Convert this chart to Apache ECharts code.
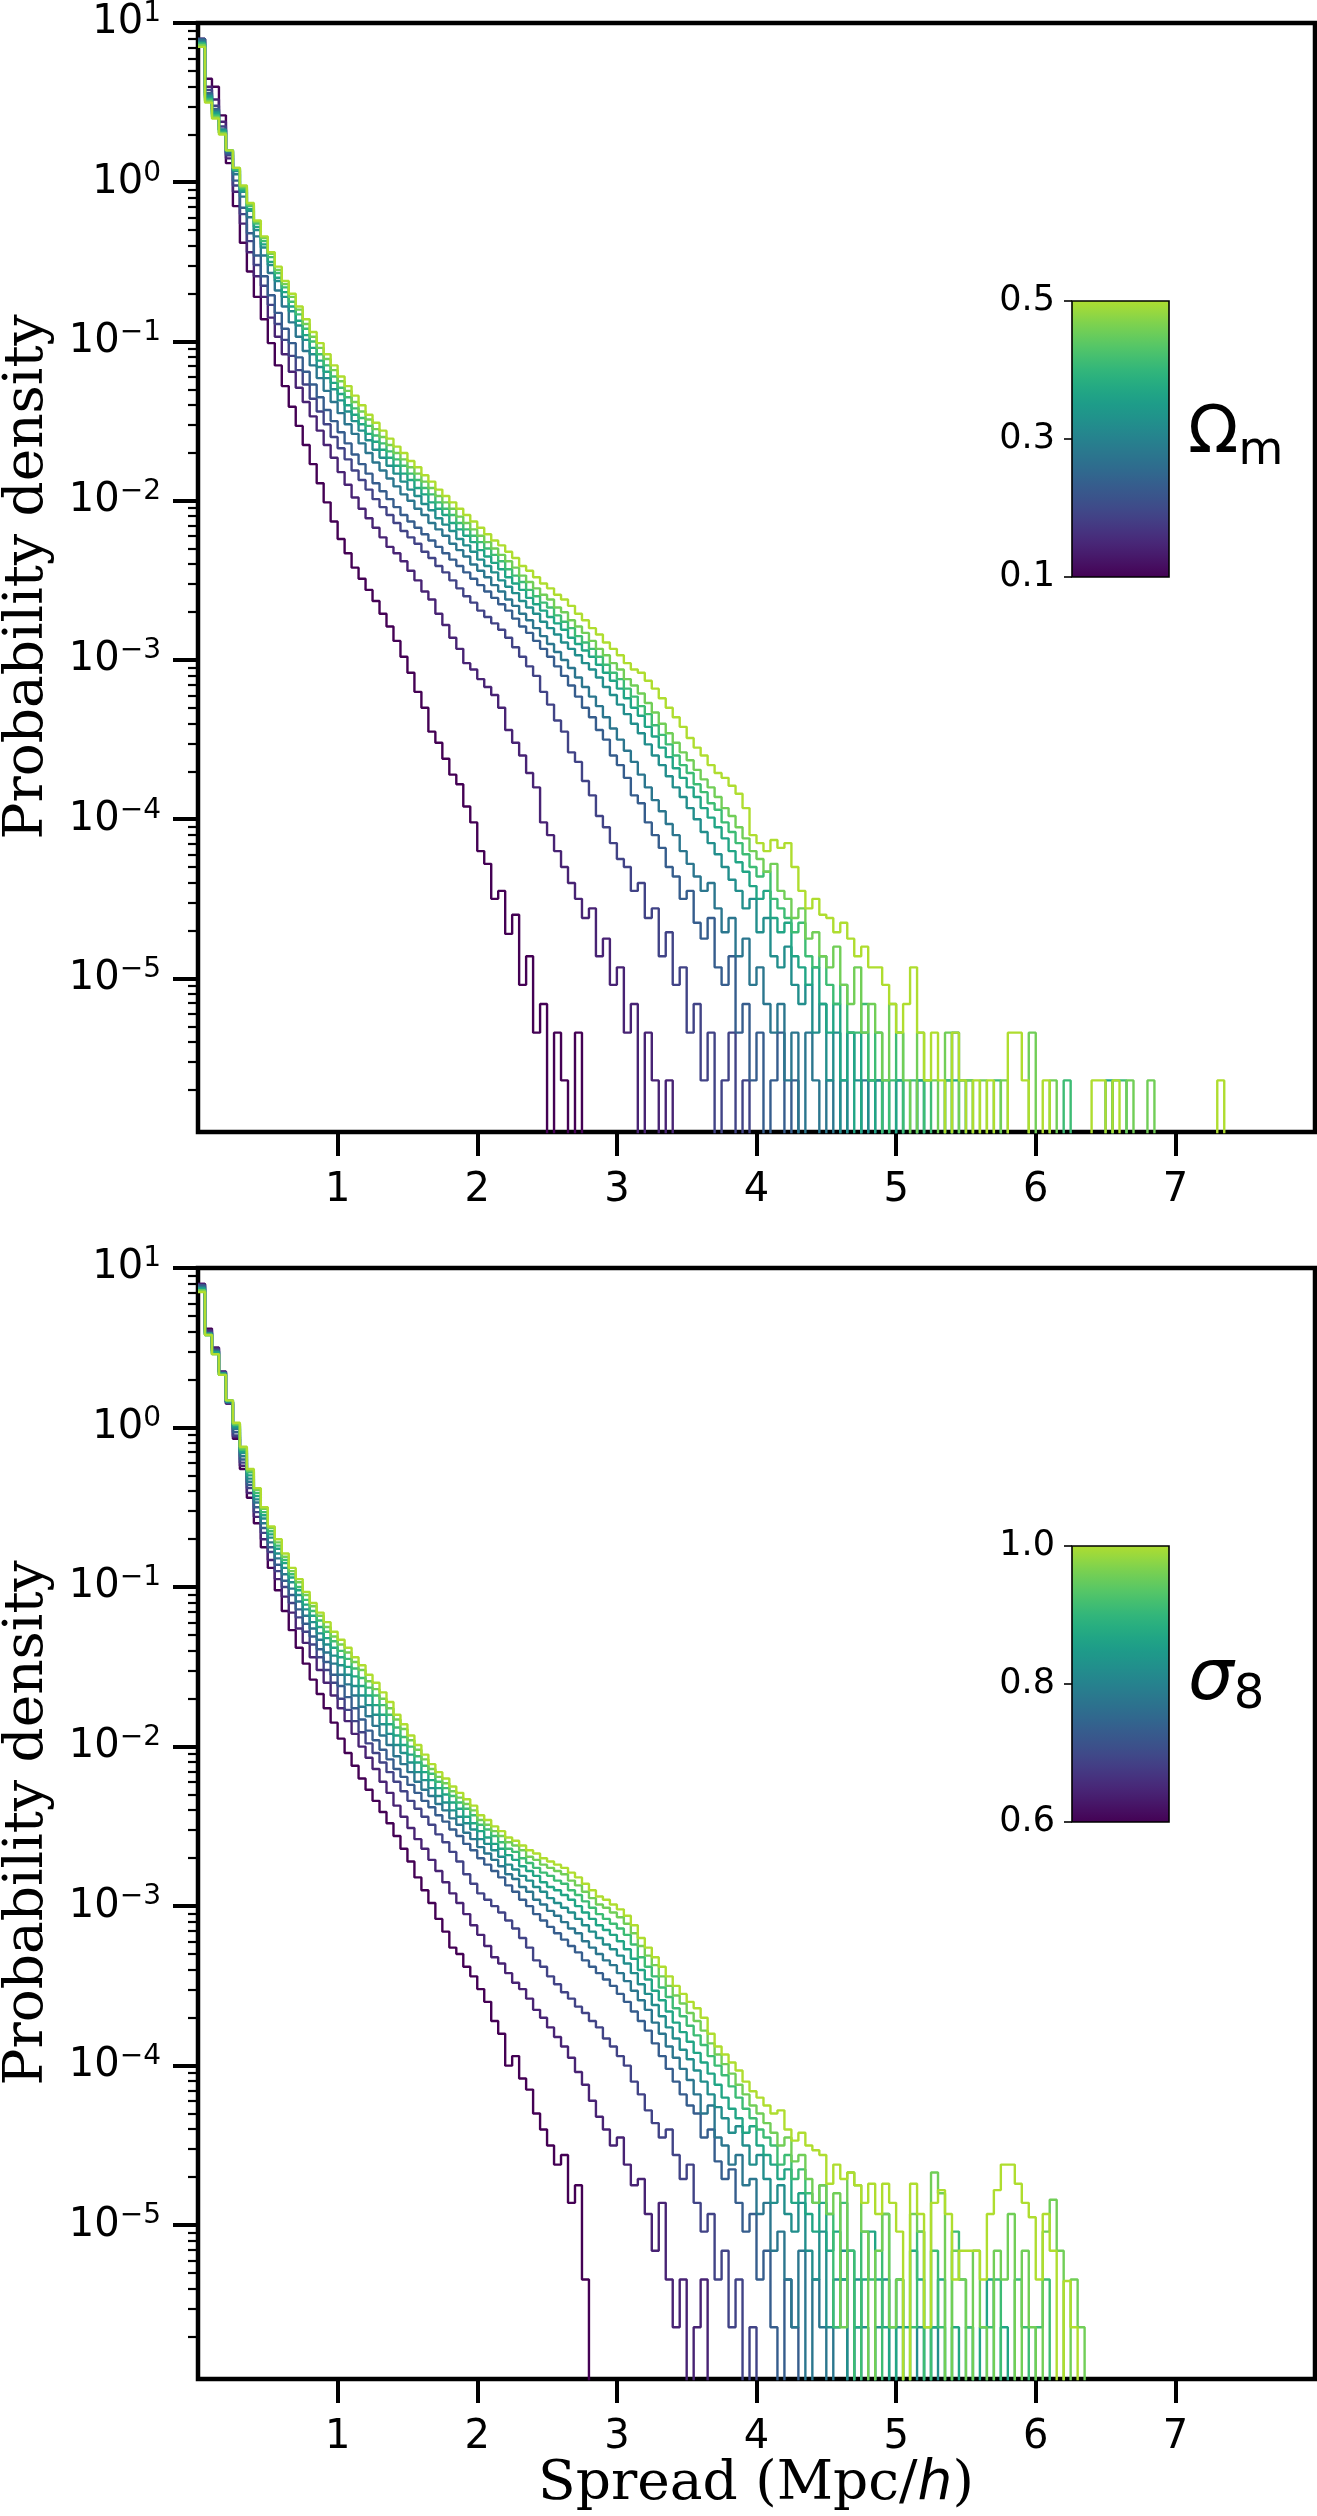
<!DOCTYPE html>
<html><head><meta charset="utf-8">
<script src="https://cdn.jsdelivr.net/npm/echarts@6/dist/echarts.min.js"></script>
<style>html,body{margin:0;padding:0;background:#fff}#c{width:1317px;height:2516px}</style>
</head><body><div id="c"></div>
<script>
// ---------------- data ----------------
const BIN_WIDTH = 0.05;               // histogram bin width (Mpc/h)
const xTickValues = [1, 2, 3, 4, 5, 6, 7];
const yTickValues = [1e-5, 1e-4, 1e-3, 1e-2, 1e-1, 1, 10];
const omegaMTicks = [0.1, 0.3, 0.5];
const sigma8Ticks = [0.6, 0.8, 1.0];
const omegaMValues = [0.1, 0.144, 0.189, 0.233, 0.278, 0.322, 0.367, 0.411, 0.456, 0.5];
const sigma8Values = [0.6, 0.644, 0.689, 0.733, 0.778, 0.822, 0.867, 0.911, 0.956, 1.0];

// log10(probability density) per bin, top panel (Omega_m)
const om0 = [0.90,0.65,0.60,0.42,0.12,-0.15,-0.38,-0.56,-0.72,-0.86,
-1.01,-1.15,-1.28,-1.41,-1.53,-1.65,-1.77,-1.89,-2.01,-2.13,
-2.24,-2.33,-2.42,-2.49,-2.56,-2.63,-2.71,-2.79,-2.88,-2.98,
-3.08,-3.20,-3.30,-3.45,-3.52,-3.62,-3.72,-3.78,-3.92,-4.02,
-4.20,-4.28,-4.50,-4.45,-4.72,-4.60,-5.04,-4.86,-5.34,-5.16,
-7,-5.34,-5.64,-7,-5.34];
const om1 = [0.90,0.60,0.52,0.38,0.15,-0.06,-0.26,-0.44,-0.59,-0.72,
-0.85,-0.97,-1.08,-1.19,-1.29,-1.38,-1.47,-1.56,-1.65,-1.73,
-1.82,-1.90,-1.98,-2.05,-2.11,-2.17,-2.23,-2.29,-2.33,-2.38,
-2.44,-2.50,-2.57,-2.62,-2.71,-2.78,-2.86,-2.93,-3.02,-3.06,
-3.12,-3.17,-3.22,-3.30,-3.44,-3.52,-3.60,-3.71,-3.80,-4.02,
-4.10,-4.20,-4.30,-4.40,-4.50,-4.62,-4.56,-4.86,-4.75,-5.04,
-4.93,-5.34,-5.16,-7,-5.34,-5.64,-7,-5.64];
const om2 = [0.90,0.58,0.48,0.35,0.17,-0.02,-0.20,-0.37,-0.52,-0.65,
-0.77,-0.89,-0.99,-1.09,-1.18,-1.27,-1.36,-1.44,-1.52,-1.60,
-1.67,-1.74,-1.81,-1.87,-1.93,-1.99,-2.04,-2.09,-2.14,-2.19,
-2.23,-2.27,-2.32,-2.36,-2.41,-2.45,-2.50,-2.55,-2.60,-2.64,
-2.69,-2.73,-2.77,-2.81,-2.86,-2.92,-2.98,-3.04,-3.10,-3.20,
-3.28,-3.38,-3.45,-3.58,-3.64,-3.76,-3.85,-3.98,-4.05,-4.15,
-4.25,-4.30,-4.45,-4.40,-4.62,-4.56,-4.86,-4.71,-5.04,-4.93,
-5.34,-5.16,-5.64,-5.34,-7,-5.64,-5.34,-7,-5.64];
const om3 = [0.90,0.56,0.46,0.33,0.18,0.01,-0.16,-0.32,-0.46,-0.59,
-0.71,-0.82,-0.92,-1.01,-1.10,-1.19,-1.27,-1.35,-1.43,-1.50,
-1.57,-1.64,-1.71,-1.77,-1.83,-1.89,-1.94,-1.99,-2.04,-2.09,
-2.13,-2.17,-2.21,-2.25,-2.29,-2.33,-2.37,-2.41,-2.45,-2.49,
-2.53,-2.57,-2.61,-2.65,-2.69,-2.74,-2.79,-2.83,-2.88,-2.93,
-2.98,-3.04,-3.10,-3.16,-3.23,-3.30,-3.36,-3.44,-3.50,-3.60,
-3.66,-3.74,-3.85,-3.90,-4.02,-4.10,-4.18,-4.30,-4.36,-4.50,
-4.45,-4.65,-4.75,-4.62,-4.93,-5.04,-4.86,-5.34,-5.16,-5.64,
-5.34,-7,-5.64,-5.34,-7,-5.64];
const om4 = [0.89,0.55,0.45,0.33,0.19,0.05,-0.09,-0.22,-0.34,-0.46,
-0.57,-0.68,-0.78,-0.88,-0.97,-1.06,-1.15,-1.23,-1.31,-1.38,
-1.45,-1.52,-1.58,-1.64,-1.70,-1.76,-1.81,-1.86,-1.91,-1.96,
-2.00,-2.05,-2.09,-2.14,-2.18,-2.22,-2.27,-2.31,-2.35,-2.40,
-2.44,-2.48,-2.53,-2.57,-2.62,-2.66,-2.71,-2.75,-2.80,-2.85,
-2.90,-2.95,-3.00,-3.05,-3.11,-3.17,-3.23,-3.29,-3.36,-3.43,
-3.50,-3.57,-3.64,-3.72,-3.80,-3.88,-3.95,-4.03,-4.10,-4.20,
-4.28,-4.36,-4.45,-4.40,-4.56,-4.71,-4.62,-4.86,-4.75,-5.04,
-4.93,-5.16,-5.34,-5.16,-5.64,-5.34,-7,-5.34,-5.64,-7,
-5.64,-7,-5.64,-7,-7,-5.64,-7,-5.64];
const om5 = [0.88,0.54,0.44,0.33,0.20,0.07,-0.06,-0.18,-0.30,-0.41,
-0.52,-0.62,-0.72,-0.81,-0.90,-0.99,-1.08,-1.16,-1.23,-1.30,
-1.37,-1.44,-1.50,-1.56,-1.62,-1.68,-1.73,-1.78,-1.83,-1.88,
-1.93,-1.97,-2.02,-2.06,-2.11,-2.15,-2.19,-2.24,-2.28,-2.32,
-2.37,-2.41,-2.45,-2.50,-2.54,-2.58,-2.63,-2.67,-2.71,-2.76,
-2.80,-2.84,-2.89,-2.93,-2.97,-3.02,-3.06,-3.11,-3.17,-3.22,
-3.28,-3.34,-3.40,-3.46,-3.53,-3.60,-3.66,-3.73,-3.80,-3.86,
-3.93,-4.00,-4.08,-4.15,-4.22,-4.30,-4.38,-4.45,-4.56,-4.50,
-4.71,-4.62,-4.86,-4.93,-4.80,-5.04,-5.16,-5.04,-5.34,-5.16,
-5.64,-5.34,-7,-5.34,-5.64,-7,-5.64,-5.64,-7,-7,
-5.64,-7,-7,-5.64,-7,-7,-7,-5.64,-5.34,-5.64];
const om6 = [0.87,0.53,0.43,0.32,0.20,0.08,-0.05,-0.17,-0.28,-0.39,
-0.50,-0.60,-0.69,-0.78,-0.87,-0.96,-1.04,-1.12,-1.19,-1.26,
-1.33,-1.40,-1.46,-1.52,-1.58,-1.63,-1.68,-1.73,-1.78,-1.83,
-1.87,-1.92,-1.96,-2.01,-2.05,-2.09,-2.14,-2.18,-2.22,-2.26,
-2.31,-2.35,-2.39,-2.43,-2.48,-2.52,-2.56,-2.61,-2.65,-2.69,
-2.73,-2.77,-2.81,-2.86,-2.90,-2.94,-2.98,-3.03,-3.08,-3.13,
-3.18,-3.24,-3.30,-3.35,-3.42,-3.48,-3.55,-3.61,-3.68,-3.74,
-3.80,-3.86,-3.93,-3.99,-4.05,-4.12,-4.20,-4.27,-4.33,-4.42,
-4.50,-4.45,-4.62,-4.71,-4.65,-4.86,-4.93,-5.04,-4.93,-5.16,
-5.34,-5.16,-5.64,-5.34,-7,-5.34,-5.64,-7,-5.64,-7,
-5.64,-7,-7,-5.64,-7,-7,-7,-7,-5.64,-7,
-7,-7,-7,-7,-7,-7,-7,-7,-7,-7,
-7,-7,-7,-7,-7,-7,-7,-7,-7,-7,
-5.64];
const om7 = [0.87,0.52,0.42,0.31,0.20,0.08,-0.04,-0.15,-0.26,-0.37,
-0.47,-0.57,-0.66,-0.75,-0.83,-0.92,-1.00,-1.08,-1.15,-1.22,
-1.29,-1.35,-1.42,-1.48,-1.53,-1.59,-1.64,-1.69,-1.74,-1.78,
-1.83,-1.87,-1.92,-1.96,-2.01,-2.05,-2.09,-2.14,-2.18,-2.22,
-2.26,-2.30,-2.34,-2.38,-2.43,-2.47,-2.51,-2.56,-2.60,-2.64,
-2.67,-2.72,-2.76,-2.80,-2.85,-2.89,-2.93,-2.98,-3.03,-3.08,
-3.12,-3.18,-3.23,-3.29,-3.34,-3.41,-3.47,-3.53,-3.60,-3.66,
-3.71,-3.78,-3.83,-3.90,-3.94,-4.02,-4.08,-4.15,-4.22,-4.30,
-4.36,-4.33,-4.50,-4.56,-4.62,-4.71,-4.65,-4.86,-4.93,-4.86,
-5.04,-5.16,-5.04,-5.34,-5.34,-5.16,-5.64,-5.34,-7,-5.64,
-5.34,-7,-5.64,-7,-5.64,-7,-7,-5.64,-7,-7,
-5.64,-7,-7,-7,-5.64,-7,-7,-7,-7,-7,
-7,-7,-7,-7,-5.64,-7,-7,-7,-7,-7,
-7,-5.64,-5.64];
const om8 = [0.86,0.51,0.41,0.31,0.20,0.09,-0.03,-0.14,-0.25,-0.35,
-0.45,-0.55,-0.64,-0.72,-0.80,-0.89,-0.97,-1.04,-1.11,-1.18,
-1.25,-1.31,-1.38,-1.44,-1.49,-1.55,-1.60,-1.65,-1.70,-1.74,
-1.79,-1.83,-1.88,-1.92,-1.97,-2.01,-2.05,-2.10,-2.14,-2.18,
-2.22,-2.26,-2.30,-2.34,-2.38,-2.42,-2.47,-2.51,-2.55,-2.59,
-2.62,-2.67,-2.70,-2.75,-2.79,-2.83,-2.88,-2.93,-2.97,-3.02,
-3.06,-3.12,-3.16,-3.21,-3.27,-3.33,-3.40,-3.46,-3.52,-3.58,
-3.63,-3.69,-3.75,-3.80,-3.86,-3.93,-3.98,-4.05,-4.12,-4.20,
-4.25,-4.33,-4.28,-4.45,-4.50,-4.62,-4.56,-4.75,-4.71,-4.86,
-4.93,-4.80,-5.04,-5.16,-4.93,-5.34,-5.16,-5.34,-5.64,-5.16,
-5.34,-5.64,-7,-5.34,-5.64,-5.64,-7,-5.34,-7,-5.64,
-5.64,-7,-5.64,-7,-7,-5.64,-7,-7,-7,-5.34,
-7,-7,-5.64,-7,-7,-7,-7,-7,-7,-7,
-7,-7,-7,-5.64,-7,-7,-5.64];
const om9 = [0.85,0.50,0.40,0.30,0.20,0.09,-0.02,-0.13,-0.24,-0.34,
-0.44,-0.53,-0.62,-0.70,-0.78,-0.86,-0.94,-1.01,-1.08,-1.15,
-1.22,-1.28,-1.34,-1.40,-1.46,-1.51,-1.56,-1.61,-1.66,-1.70,
-1.75,-1.79,-1.84,-1.88,-1.93,-1.97,-2.01,-2.05,-2.09,-2.13,
-2.17,-2.21,-2.25,-2.28,-2.32,-2.36,-2.41,-2.44,-2.48,-2.52,
-2.55,-2.59,-2.62,-2.66,-2.71,-2.75,-2.80,-2.84,-2.89,-2.93,
-2.97,-3.02,-3.06,-3.08,-3.13,-3.18,-3.24,-3.30,-3.36,-3.42,
-3.49,-3.55,-3.60,-3.66,-3.71,-3.74,-3.79,-3.84,-3.93,-4.10,
-4.15,-4.20,-4.13,-4.18,-4.15,-4.30,-4.45,-4.56,-4.50,-4.60,
-4.62,-4.71,-4.65,-4.75,-4.86,-4.80,-4.93,-4.93,-5.04,-5.16,
-5.34,-5.16,-4.93,-5.34,-5.64,-5.34,-5.64,-7,-5.34,-5.64,
-7,-5.64,-7,-5.64,-7,-7,-5.34,-5.34,-5.64,-7,
-7,-5.64,-7,-7,-7,-7,-7,-7,-5.64,-5.64,
-7,-5.64,-7,-7,-7,-7,-7,-7,-7,-7,
-7,-7,-7,-7,-7,-7,-5.64];

// log10(probability density) per bin, bottom panel (sigma_8)
const s80 = [0.90,0.62,0.50,0.35,0.15,-0.07,-0.26,-0.44,-0.60,-0.75,
-0.88,-1.02,-1.15,-1.27,-1.38,-1.48,-1.58,-1.67,-1.76,-1.85,
-1.95,-2.04,-2.12,-2.20,-2.27,-2.34,-2.41,-2.48,-2.56,-2.64,
-2.72,-2.82,-2.90,-2.98,-3.08,-3.16,-3.26,-3.30,-3.38,-3.44,
-3.52,-3.60,-3.72,-3.80,-4.00,-3.94,-4.08,-4.15,-4.30,-4.40,
-4.50,-4.62,-4.56,-4.86,-4.75,-5.34];
const s81 = [0.90,0.61,0.50,0.35,0.15,-0.06,-0.24,-0.41,-0.56,-0.70,
-0.83,-0.95,-1.06,-1.16,-1.26,-1.35,-1.44,-1.52,-1.60,-1.68,
-1.76,-1.84,-1.92,-2.00,-2.07,-2.14,-2.22,-2.29,-2.37,-2.44,
-2.51,-2.58,-2.64,-2.71,-2.78,-2.85,-2.92,-2.98,-3.05,-3.12,
-3.18,-3.25,-3.32,-3.36,-3.42,-3.48,-3.52,-3.58,-3.65,-3.70,
-3.76,-3.82,-3.88,-3.95,-4.04,-4.12,-4.22,-4.32,-4.40,-4.50,
-4.45,-4.62,-4.75,-4.71,-4.93,-5.16,-4.86,-5.34,-5.64,-5.34,
-7,-5.64,-5.34];
const s82 = [0.89,0.60,0.49,0.35,0.16,-0.05,-0.22,-0.38,-0.53,-0.66,
-0.78,-0.90,-1.00,-1.10,-1.19,-1.28,-1.36,-1.44,-1.52,-1.60,
-1.70,-1.77,-1.84,-1.91,-1.98,-2.04,-2.10,-2.16,-2.22,-2.28,
-2.34,-2.39,-2.44,-2.49,-2.55,-2.60,-2.66,-2.72,-2.80,-2.86,
-2.92,-2.96,-3.00,-3.04,-3.09,-3.14,-3.20,-3.26,-3.34,-3.38,
-3.44,-3.49,-3.54,-3.58,-3.63,-3.67,-3.72,-3.76,-3.83,-3.88,
-3.94,-4.00,-4.10,-4.18,-4.28,-4.36,-4.45,-4.40,-4.56,-4.71,
-4.62,-4.86,-5.04,-4.93,-5.34,-5.16,-5.64,-5.34,-7,-5.64];
const s83 = [0.89,0.59,0.48,0.34,0.16,-0.03,-0.20,-0.36,-0.50,-0.63,
-0.75,-0.86,-0.96,-1.05,-1.14,-1.23,-1.31,-1.39,-1.47,-1.55,
-1.62,-1.69,-1.76,-1.83,-1.90,-1.96,-2.02,-2.08,-2.14,-2.19,
-2.24,-2.29,-2.34,-2.38,-2.43,-2.47,-2.52,-2.56,-2.61,-2.65,
-2.70,-2.74,-2.78,-2.82,-2.87,-2.91,-2.96,-3.00,-3.05,-3.09,
-3.13,-3.17,-3.21,-3.25,-3.29,-3.34,-3.38,-3.42,-3.46,-3.50,
-3.55,-3.60,-3.66,-3.72,-3.78,-3.86,-3.94,-4.02,-4.10,-4.18,
-4.25,-4.30,-4.45,-4.40,-4.60,-4.71,-4.65,-4.86,-5.04,-4.93,
-5.34,-5.16,-5.64,-7,-5.34,-5.64];
const s84 = [0.88,0.59,0.48,0.34,0.16,-0.01,-0.18,-0.34,-0.47,-0.60,
-0.72,-0.82,-0.92,-1.01,-1.09,-1.18,-1.26,-1.33,-1.41,-1.48,
-1.55,-1.61,-1.68,-1.75,-1.81,-1.87,-1.93,-1.99,-2.06,-2.11,
-2.16,-2.22,-2.27,-2.31,-2.36,-2.40,-2.45,-2.49,-2.54,-2.58,
-2.63,-2.67,-2.71,-2.75,-2.80,-2.83,-2.88,-2.91,-2.96,-2.99,
-3.03,-3.06,-3.10,-3.14,-3.17,-3.22,-3.26,-3.30,-3.34,-3.37,
-3.42,-3.47,-3.53,-3.59,-3.65,-3.73,-3.80,-3.88,-3.95,-4.02,
-4.09,-4.18,-4.30,-4.25,-4.45,-4.50,-4.62,-4.56,-4.75,-4.71,
-4.93,-4.86,-5.16,-5.04,-5.34,-5.64,-5.16,-7,-5.34,-5.64,
-7,-5.64,-5.34,-7,-5.64];
const s85 = [0.87,0.59,0.47,0.34,0.16,0.00,-0.16,-0.32,-0.45,-0.57,
-0.69,-0.79,-0.88,-0.97,-1.05,-1.14,-1.22,-1.29,-1.36,-1.43,
-1.49,-1.55,-1.62,-1.68,-1.74,-1.80,-1.86,-1.92,-1.99,-2.04,
-2.10,-2.16,-2.21,-2.26,-2.31,-2.35,-2.40,-2.44,-2.48,-2.52,
-2.58,-2.61,-2.65,-2.69,-2.74,-2.77,-2.81,-2.84,-2.88,-2.91,
-2.95,-2.98,-3.01,-3.04,-3.08,-3.12,-3.16,-3.20,-3.24,-3.27,
-3.31,-3.36,-3.42,-3.49,-3.55,-3.62,-3.69,-3.76,-3.83,-3.90,
-3.96,-4.03,-4.10,-4.18,-4.26,-4.33,-4.42,-4.38,-4.50,-4.62,
-4.56,-4.71,-4.86,-4.75,-4.93,-5.04,-4.86,-5.16,-5.34,-5.04,
-5.64,-5.34,-5.16,-7,-5.34,-5.64,-7,-5.64,-5.34,-7,
-5.64,-7,-7,-5.64,-7,-5.64];
const s86 = [0.87,0.58,0.47,0.33,0.17,0.01,-0.15,-0.30,-0.43,-0.55,
-0.67,-0.76,-0.85,-0.94,-1.02,-1.11,-1.18,-1.25,-1.32,-1.38,
-1.44,-1.50,-1.56,-1.62,-1.68,-1.74,-1.80,-1.86,-1.93,-1.99,
-2.05,-2.10,-2.16,-2.21,-2.26,-2.30,-2.35,-2.39,-2.44,-2.48,
-2.53,-2.57,-2.61,-2.64,-2.68,-2.71,-2.75,-2.78,-2.81,-2.85,
-2.88,-2.90,-2.93,-2.96,-3.00,-3.04,-3.08,-3.12,-3.15,-3.18,
-3.22,-3.27,-3.33,-3.40,-3.46,-3.53,-3.59,-3.66,-3.73,-3.79,
-3.85,-3.92,-3.98,-4.05,-4.12,-4.20,-4.27,-4.33,-4.42,-4.38,
-4.50,-4.56,-4.62,-4.71,-4.65,-4.86,-4.80,-4.93,-5.04,-4.86,
-5.16,-5.04,-5.34,-5.16,-5.64,-5.34,-5.04,-5.34,-5.64,-7,
-5.34,-5.64,-5.16,-5.34,-7,-5.64,-5.34,-7,-5.64,-7,
-5.64,-7,-5.64,-5.34,-7,-5.64];
const s87 = [0.86,0.58,0.46,0.33,0.17,0.02,-0.14,-0.28,-0.41,-0.53,
-0.65,-0.74,-0.83,-0.92,-1.00,-1.08,-1.15,-1.21,-1.28,-1.34,
-1.40,-1.45,-1.51,-1.57,-1.63,-1.68,-1.74,-1.80,-1.88,-1.94,
-2.00,-2.06,-2.12,-2.17,-2.22,-2.26,-2.31,-2.35,-2.39,-2.43,
-2.49,-2.52,-2.56,-2.60,-2.64,-2.66,-2.70,-2.73,-2.76,-2.79,
-2.81,-2.84,-2.86,-2.90,-2.93,-2.97,-3.01,-3.05,-3.08,-3.11,
-3.14,-3.18,-3.24,-3.32,-3.38,-3.44,-3.51,-3.57,-3.64,-3.69,
-3.75,-3.81,-3.87,-3.94,-4.00,-4.06,-4.13,-4.20,-4.27,-4.33,
-4.40,-4.45,-4.50,-4.62,-4.56,-4.71,-4.65,-4.80,-4.86,-4.75,
-4.93,-5.64,-4.86,-5.16,-7,-5.04,-5.34,-7,-4.93,-5.64,
-5.34,-7,-5.64,-5.04,-7,-5.16,-5.64,-7,-5.04,-5.34,
-5.64,-7,-7,-5.64,-5.34,-7,-7,-5.34,-5.64,-7,
-5.64,-5.34];
const s88 = [0.86,0.58,0.46,0.33,0.17,0.02,-0.13,-0.27,-0.39,-0.51,
-0.63,-0.72,-0.81,-0.90,-0.97,-1.05,-1.12,-1.18,-1.25,-1.31,
-1.36,-1.41,-1.47,-1.52,-1.59,-1.64,-1.70,-1.76,-1.83,-1.89,
-1.96,-2.02,-2.08,-2.14,-2.19,-2.23,-2.28,-2.32,-2.36,-2.40,
-2.46,-2.49,-2.53,-2.56,-2.60,-2.62,-2.65,-2.69,-2.71,-2.74,
-2.76,-2.78,-2.80,-2.84,-2.87,-2.91,-2.95,-2.99,-3.01,-3.04,
-3.07,-3.11,-3.17,-3.25,-3.31,-3.37,-3.44,-3.50,-3.56,-3.61,
-3.67,-3.72,-3.78,-3.86,-3.93,-3.99,-4.05,-4.12,-4.18,-4.25,
-4.30,-4.36,-4.42,-4.50,-4.45,-4.60,-4.56,-4.71,-4.86,-4.75,
-4.93,-4.80,-5.64,-4.67,-4.75,-5.04,-7,-5.16,-4.93,-5.64,
-5.34,-7,-4.93,-5.04,-5.64,-4.67,-4.80,-7,-5.16,-5.34,
-7,-5.16,-5.64,-7,-5.16,-5.34,-4.93,-7,-5.16,-5.64,
-7,-5.04,-4.84,-5.16,-7,-5.34,-5.64];
const s89 = [0.85,0.58,0.46,0.33,0.17,0.03,-0.12,-0.26,-0.38,-0.50,
-0.62,-0.70,-0.79,-0.88,-0.95,-1.03,-1.10,-1.16,-1.22,-1.28,
-1.33,-1.38,-1.44,-1.49,-1.55,-1.60,-1.66,-1.72,-1.80,-1.86,
-1.93,-1.99,-2.05,-2.11,-2.16,-2.20,-2.25,-2.29,-2.33,-2.37,
-2.43,-2.46,-2.50,-2.53,-2.57,-2.59,-2.62,-2.65,-2.67,-2.70,
-2.72,-2.74,-2.76,-2.79,-2.82,-2.86,-2.90,-2.94,-2.96,-2.99,
-3.02,-3.06,-3.12,-3.20,-3.26,-3.32,-3.38,-3.44,-3.50,-3.55,
-3.60,-3.64,-3.70,-3.80,-3.88,-3.93,-3.98,-4.03,-4.10,-4.16,
-4.20,-4.25,-4.30,-4.28,-4.40,-4.47,-4.42,-4.50,-4.53,-4.56,
-4.74,-4.62,-4.71,-4.67,-4.75,-4.86,-4.74,-4.93,-4.74,-4.86,
-5.04,-7,-4.74,-4.93,-5.64,-4.86,-4.78,-4.93,-5.34,-5.16,
-5.16,-5.16,-5.34,-4.93,-4.78,-4.62,-4.62,-4.74,-4.86,-4.95,
-5.34,-4.93,-5.16,-7,-5.35,-5.64];

const omegaMSeries = [om0, om1, om2, om3, om4, om5, om6, om7, om8, om9];
const sigma8Series = [s80, s81, s82, s83, s84, s85, s86, s87, s88, s89];

// ---------------- style helpers ----------------
const VIRIDIS = ['#440154','#471365','#482475','#463480','#414487','#3b528b','#355f8d','#2f6c8e','#2a788e','#25848e','#21918c','#1e9c89','#22a884','#2fb47c','#44bf70','#5ec962','#7ad151','#9bd93c','#bddf26','#dfe318','#fde725'];
const CMAP_TOP = 0.88;
function hexToRgb(h){return [parseInt(h.slice(1,3),16),parseInt(h.slice(3,5),16),parseInt(h.slice(5,7),16)];}
function viridis(t){
  t=Math.max(0,Math.min(1,t));
  const p=t*(VIRIDIS.length-1); const i=Math.min(Math.floor(p),VIRIDIS.length-2); const f=p-i;
  const a=hexToRgb(VIRIDIS[i]), b=hexToRgb(VIRIDIS[i+1]);
  return 'rgb('+a.map((v,k)=>Math.round(v+(b[k]-v)*f)).join(',')+')';
}
function paramColor(v,lo,hi){return viridis(CMAP_TOP*(v-lo)/(hi-lo));}
function colorbarGradient(){
  const stops=[]; for(let i=0;i<=24;i++){const s=i/24; stops.push({offset:s,color:viridis(CMAP_TOP*(1-s))});}
  return {type:'linear',x:0,y:0,x2:0,y2:1,colorStops:stops};
}
function stepData(logs){
  const pts = logs.map((v,i)=>[Math.round(i*BIN_WIDTH*1000)/1000, Math.pow(10,v)]);
  const end = Math.round(logs.length*BIN_WIDTH*1000)/1000;
  pts.push([end, Math.pow(10, logs[logs.length-1])]);
  pts.push([end, 1e-9]);
  return pts;
}
const minorTickValues=[];
for(let e=-6;e<=0;e++){for(let m=2;m<=9;m++){minorTickValues.push(m*Math.pow(10,e));}}

const Y_MIN = 1.0864e-6, Y_MAX = 10;
const FONT = 'DejaVu Sans';
const TICK_FS = 40;
const LINE_W = 2.4;

function supLabel(v){
  const e=Math.round(Math.log10(v));
  return '{b|10}{s|'+(e<0?'\u2212'+(-e):e)+'}';
}
const supRich = {
  b:{fontSize:TICK_FS,fontFamily:FONT,color:'#000',lineHeight:46},
  s:{fontSize:28,fontFamily:FONT,color:'#000',verticalAlign:'top',lineHeight:28}
};

const gridTops=[23,1268], gridHeights=[1109,1111];
const GRID_LEFT=198, GRID_W=1117;

const grids=[], xAxes=[], yAxes=[], series=[];
for(let g=0;g<2;g++){
  grids.push({left:GRID_LEFT,top:gridTops[g],width:GRID_W,height:gridHeights[g],show:true,borderColor:'#000',borderWidth:4.5,backgroundColor:'rgba(0,0,0,0)',outerBoundsMode:'none',containLabel:false});
  xAxes.push({gridIndex:g,type:'value',min:0,max:8,
    axisLine:{show:false},splitLine:{show:false},
    axisTick:{show:true,inside:false,length:24,lineStyle:{color:'#000',width:4},customValues:xTickValues},
    axisLabel:{show:true,customValues:xTickValues,fontSize:TICK_FS,fontFamily:FONT,color:'#000',margin:39}});
  yAxes.push({gridIndex:g,type:'log',logBase:10,min:Y_MIN,max:Y_MAX,position:'left',
    axisLine:{show:false},splitLine:{show:false},minorTick:{show:false},
    axisTick:{show:true,inside:false,length:25,lineStyle:{color:'#000',width:4},customValues:yTickValues},
    axisLabel:{show:true,customValues:yTickValues,margin:37,formatter:supLabel,rich:supRich}});
  yAxes.push({gridIndex:g,type:'log',logBase:10,min:Y_MIN,max:Y_MAX,position:'left',
    axisLine:{show:false},splitLine:{show:false},axisLabel:{show:false},
    axisTick:{show:true,inside:false,length:10,lineStyle:{color:'#000',width:2.2},customValues:minorTickValues}});
}
// colorbars
const cbTops=[301,1546];
const cbTicks=[omegaMTicks,sigma8Ticks];
for(let c=0;c<2;c++){
  grids.push({left:1072,top:cbTops[c],width:97,height:276,show:true,borderColor:'#000',borderWidth:1.6,backgroundColor:colorbarGradient(),outerBoundsMode:'none',containLabel:false});
  xAxes.push({gridIndex:2+c,type:'value',min:0,max:1,show:false});
  const t=cbTicks[c];
  yAxes.push({gridIndex:2+c,type:'value',min:t[0],max:t[2],position:'left',
    axisLine:{show:false},splitLine:{show:false},
    axisTick:{show:true,inside:false,length:8,lineStyle:{color:'#000',width:1.6},customValues:t},
    axisLabel:{show:true,customValues:t,fontSize:35,fontFamily:FONT,color:'#000',margin:17,formatter:v=>Number(v).toFixed(1)}});
}

omegaMSeries.forEach((arr,k)=>{
  const col=paramColor(omegaMValues[k],0.1,0.5);
  series.push({type:'line',xAxisIndex:0,yAxisIndex:0,data:stepData(arr),step:'end',symbol:'none',showSymbol:false,
    clip:true,silent:true,animation:false,lineStyle:{width:LINE_W,color:col},itemStyle:{color:col}});
});
sigma8Series.forEach((arr,k)=>{
  const col=paramColor(sigma8Values[k],0.6,1.0);
  series.push({type:'line',xAxisIndex:1,yAxisIndex:2,data:stepData(arr),step:'end',symbol:'none',showSymbol:false,
    clip:true,silent:true,animation:false,lineStyle:{width:LINE_W,color:col},itemStyle:{color:col}});
});

const yLabelStyle = {text:'Probability density',font:'55px "DejaVu Serif"',fill:'#000',align:'center',verticalAlign:'middle',textAlign:'center',textVerticalAlign:'middle'};
const graphic=[
  {type:'text',x:28,y:577,rotation:Math.PI/2,style:Object.assign({},yLabelStyle)},
  {type:'text',x:28,y:1823,rotation:Math.PI/2,style:Object.assign({},yLabelStyle)},
  {type:'text',x:756,y:2485,style:{text:'{a|Spread (Mpc/}{i|h}{a|)}',align:'center',verticalAlign:'middle',textAlign:'center',textVerticalAlign:'middle',
    rich:{a:{fontSize:55,fontFamily:'DejaVu Serif',fill:'#000',color:'#000'},i:{fontSize:55,fontFamily:FONT,fontStyle:'italic',fill:'#000',color:'#000'}}}},
  {type:'text',x:1188,y:435,style:{text:'{o|\u03A9}{m|m}',align:'left',verticalAlign:'middle',textAlign:'left',textVerticalAlign:'middle',
    rich:{o:{fontSize:66,fontFamily:FONT,lineHeight:80,fill:'#000',color:'#000'},m:{fontSize:46,fontFamily:FONT,lineHeight:46,verticalAlign:'bottom',fill:'#000',color:'#000'}}}},
  {type:'text',x:1188,y:1680,style:{text:'{o|\u03C3}{m|8}',align:'left',verticalAlign:'middle',textAlign:'left',textVerticalAlign:'middle',
    rich:{o:{fontSize:72,fontFamily:FONT,fontStyle:'italic',lineHeight:80,fill:'#000',color:'#000'},m:{fontSize:48,fontFamily:FONT,lineHeight:48,verticalAlign:'bottom',fill:'#000',color:'#000'}}}}
];

const chart = echarts.init(document.getElementById('c'), null, {renderer:'canvas'});
chart.setOption({
  animation:false,
  backgroundColor:'#fff',
  textStyle:{fontFamily:FONT},
  grid:grids, xAxis:xAxes, yAxis:yAxes, series:series, graphic:graphic
});
</script></body></html>
